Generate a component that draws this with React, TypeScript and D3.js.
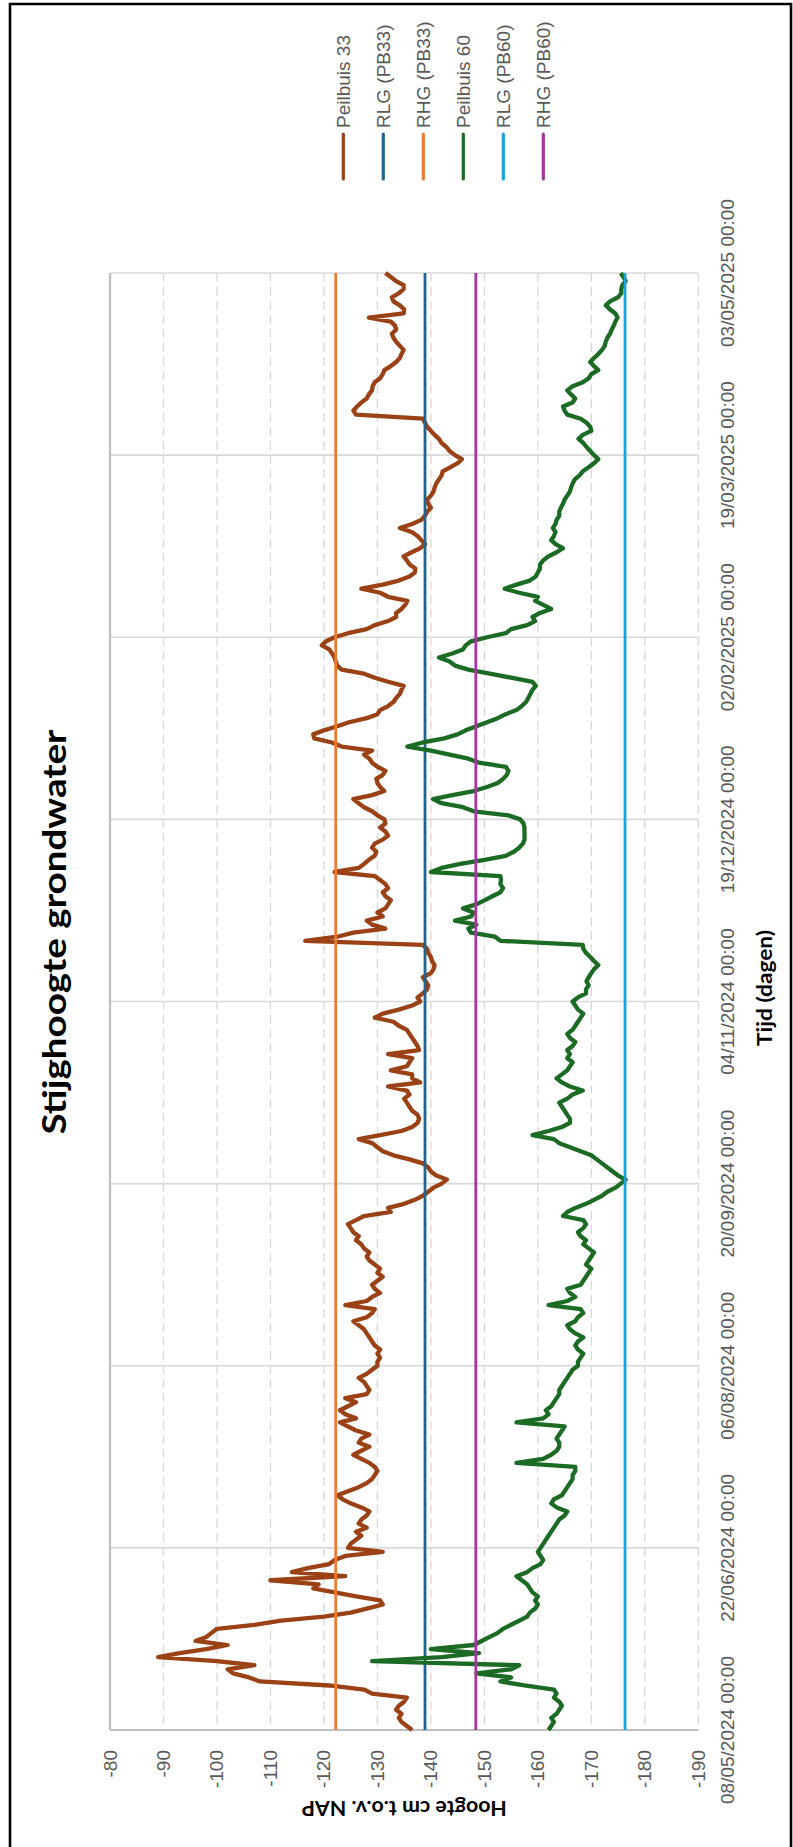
import { line, scaleLinear, scaleUtc, utcParse, utcFormat } from 'd3'

// meetwaarden per dag vanaf 08/05/2024 (cm t.o.v. NAP)
const peilbuis33 = [
  -136.5, -135.5, -134.5, -134, -134.5, -133.5, -134, -135, -135.5, -129,
  -127.5, -121, -108, -106, -103, -102, -107, -100, -89, -93,
  -98, -102, -96, -98, -99, -100, -107, -112, -120, -125,
  -128, -131, -130.5, -126, -122, -118, -119, -110, -124, -114,
  -117, -121, -122, -124, -131, -124.5, -125, -126, -127, -126,
  -128, -126.5, -127, -128, -128.5, -127, -125, -123.5, -122.5, -124.5,
  -126.5, -128, -129, -129.5, -130, -129.5, -128.5, -127, -125.5, -127,
  -128.5, -126.5, -127, -128.5, -126, -124.5, -123, -126, -124, -123,
  -124.5, -126, -124, -128, -128.5, -128, -127.5, -126.5, -128, -129,
  -130, -130, -130.5, -130, -130.5, -129.5, -129, -128.5, -128, -127.5,
  -126.5, -125.5, -128, -129, -129.5, -124, -128, -129, -130.5, -129.5,
  -129, -130, -131, -130, -130.5, -129.5, -128.5, -128, -128.5, -127.5,
  -127, -126, -126.5, -125.5, -125, -124.5, -126, -127.5, -132.5, -132,
  -135, -137, -138.5, -139.5, -140.5, -142, -143, -141, -140, -139.5,
  -138.5, -136, -133, -131, -130, -129, -126.5, -130.5, -134.5, -136.5,
  -137.5, -137.8, -137.5, -136.5, -136, -135.5, -135, -136, -135.5, -132,
  -138, -136.5, -136.5, -132.5, -135.5, -136, -136.5, -132, -137.8, -137.5,
  -137, -136.5, -136, -135.5, -134, -133, -129.5, -131, -134, -136.5,
  -138, -137.5, -138.5, -139.3, -139.5, -139, -138.5, -140, -140.5, -140.7,
  -140.2, -140, -139.5, -139.3, -138.5, -116.5, -122.5, -125.5, -131.5, -129,
  -128, -131, -130, -131.5, -132, -132.5, -131.5, -131, -132, -131.5,
  -130.5, -129.5, -122, -126.5, -127.5, -128.4, -129.5, -129.8, -129, -129.5,
  -131, -132, -131.5, -130.5, -131.5, -131.3, -130, -129, -127.5, -126.5,
  -125.5, -129, -131.3, -130.5, -130, -129.8, -131, -131.5, -130, -129,
  -128.5, -127.5, -129, -123.3, -121.5, -118.2, -118, -120, -122.5, -124.7,
  -128, -130, -130.5, -132, -133, -133.5, -134.2, -134.5, -134.9, -132,
  -129.5, -127.5, -123.3, -122.5, -122.2, -122, -121.5, -121, -119.6, -120.4,
  -122, -124.5, -128, -129.5, -132, -133.5, -133.5, -134.5, -135.2, -135.6,
  -132, -130.5, -127, -131, -134, -136, -137, -137.1, -136, -135.5,
  -134.9, -136.4, -138, -138.9, -138.2, -137.5, -136.4, -134.2, -136.5, -138.2,
  -138.9, -139.3, -140, -139.5, -139.3, -140, -140.5, -140.7, -141, -141.5,
  -142, -142.2, -143.6, -145, -145.8, -144.5, -143.5, -142.9, -142, -141.5,
  -140.7, -140, -139.3, -138.9, -138.5, -126, -125.5, -126.2, -127, -128,
  -128.4, -129, -129.1, -129.5, -130.5, -131, -131.3, -132.5, -133.5, -134.2,
  -134.5, -134.9, -134.2, -133.5, -133, -132.7, -133.5, -133.3, -132.5, -128.4,
  -134.9, -135, -134.2, -133, -132.7, -134, -134.9, -134.9, -133.5, -132.5, -131.5,
]

const peilbuis60 = [
  -162, -162.5, -163, -162.5, -163.5, -164, -164.5, -164, -163, -163.5,
  -163, -157.5, -153, -155, -148.5, -155, -156.5, -129, -142, -149,
  -140, -148, -149.5, -151, -152.5, -153.5, -155, -156.5, -158, -158.5,
  -159.5, -160, -159.5, -160, -159, -158.5, -158, -157, -156, -158,
  -159, -160.5, -161, -160.5, -160, -160.5, -161, -161.5, -162, -162.5,
  -163, -163.5, -164, -165, -165.5, -163.5, -162.5, -163, -164.5, -165,
  -165.5, -166, -166.5, -166.5, -167, -167, -156, -161, -162.5, -163.5,
  -164, -164, -163.5, -164, -164.5, -165, -156, -161, -162, -161.5,
  -162.5, -163, -163.5, -164, -164, -164.5, -165, -165.5, -166, -166.5,
  -167.5, -167.5, -168, -168.5, -167.5, -167, -167.5, -168.5, -167, -166,
  -165.5, -167, -167.5, -168.5, -168, -162, -165.5, -167, -166, -165.5,
  -168, -168.5, -169, -169.5, -170, -169, -169.5, -170, -170.5, -169.5,
  -168.5, -169, -168, -167.5, -168.5, -169, -168.5, -164.7, -165.5, -167,
  -169, -170.5, -172, -173, -174.5, -175.5, -176.4, -175, -174, -173,
  -172, -171, -170, -168, -166, -164, -163, -159, -162, -164.5,
  -166, -166, -165.5, -165, -164.5, -164, -165.5, -166.5, -168.4, -166,
  -164.5, -163.5, -164.5, -165.5, -166, -166.5, -165.5, -166, -165.5, -166.5,
  -167, -166, -165.5, -166.5, -167, -167.5, -168, -168.5, -167.5, -167,
  -166.5, -167.5, -169, -169, -169.5, -169.1, -169.5, -170, -170.5, -171.3,
  -170.5, -169.8, -169, -168.5, -168.4, -153, -152, -147.5, -147, -148.5,
  -144.5, -147.5, -148, -146, -148.5, -150, -151.5, -153, -153.5, -153,
  -153.1, -153, -140, -142, -145.5, -150, -154, -155.5, -156.5, -157.2,
  -157.5, -157.5, -157.5, -157.5, -157.3, -156.7, -154.5, -148, -146, -142,
  -140.4, -144, -148, -150.5, -152.5, -153.5, -154.2, -154.5, -154, -149,
  -147, -143.5, -140, -135.6, -138.5, -142.5, -145, -146.5, -148.5, -150.5,
  -152.5, -154, -156, -157, -157.8, -158.2, -158.6, -159, -159.6, -159,
  -155, -151, -147, -144.5, -143.5, -141.5, -144, -146, -146.5, -147.5,
  -150.5, -154, -155, -158, -159.5, -159, -160.4, -162.5, -161, -159.5,
  -160, -156.5, -153.8, -156, -158.5, -159.6, -160, -160.4, -160.4, -161,
  -162, -163.5, -164.7, -163.3, -162.5, -163, -163.3, -162.8, -163.3, -163.5,
  -164, -164, -164.3, -164.7, -165, -165.5, -166, -166.2, -166.5, -166.9,
  -167.8, -168.4, -169.5, -170.5, -171.3, -170.5, -169.8, -169.1, -168.5, -167.6,
  -168.4, -170, -169.8, -169.1, -168, -165.5, -165, -164.7, -166.5, -167,
  -166.2, -165.5, -166.5, -168.4, -169.5, -170, -171.3, -170.5, -169.8, -170.5,
  -171.3, -172, -172.5, -172.7, -173, -173.5, -173.8, -174.2, -174.5, -174.9,
  -174.5, -173.5, -172.7, -173.5, -175, -175.6, -175.6, -175.8, -176.4, -176, -175.5,
]

// grenswaarden
const rlgPB33 = -138.9
const rhgPB33 = -122.2
const rlgPB60 = -176.3
const rhgPB60 = -148.4

const dateTicks = [
  '08/05/2024', '22/06/2024', '06/08/2024', '20/09/2024', '04/11/2024',
  '19/12/2024', '02/02/2025', '19/03/2025', '03/05/2025',
]
const valueTicks = [-80, -90, -100, -110, -120, -130, -140, -150, -160, -170, -180, -190]

const legendNames = ['Peilbuis 33', 'RLG (PB33)', 'RHG (PB33)', 'Peilbuis 60', 'RLG (PB60)', 'RHG (PB60)']

const colors: Record<string, string> = {
  'Peilbuis 33': '#9a4115',
  'RLG (PB33)': '#1e6592',
  'RHG (PB33)': '#ee7b30',
  'Peilbuis 60': '#1b6b24',
  'RLG (PB60)': '#1ba1db',
  'RHG (PB60)': '#a3379e',
}

const width = 793
const height = 1847
const plot = { left: 110, right: 698.3, top: 273, bottom: 1730 }

const parseDay = utcParse('%d/%m/%Y')
const formatTick = utcFormat('%d/%m/%Y %H:%M')
const tickDates = dateTicks.map((d) => parseDay(d) as Date)
const startDate = tickDates[0]
const dayMs = 86400000

const labelFont = '"Liberation Sans", Arial, sans-serif'
const titleFont = 'Lato, "Noto Sans", sans-serif'

function App() {
  const xScale = scaleLinear().domain([-80, -190]).range([plot.left, plot.right])
  const yScale = scaleUtc()
    .domain([tickDates[0], tickDates[tickDates.length - 1]])
    .range([plot.bottom, plot.top])

  const seriesPath = line<number>()
    .x((v) => xScale(v))
    .y((_, i) => yScale(new Date(startDate.getTime() + i * dayMs)))

  const levels = [
    { name: 'RLG (PB33)', value: rlgPB33 },
    { name: 'RHG (PB33)', value: rhgPB33 },
  ]
  const levels60 = [
    { name: 'RLG (PB60)', value: rlgPB60 },
    { name: 'RHG (PB60)', value: rhgPB60 },
  ]

  const levelLine = (l: { name: string; value: number }) => (
    <line
      key={l.name}
      x1={xScale(l.value)}
      x2={xScale(l.value)}
      y1={plot.top}
      y2={plot.bottom}
      stroke={colors[l.name]}
      strokeWidth={2.8}
    />
  )

  return (
    <svg
      width={width}
      height={height}
      viewBox={`0 0 ${width} ${height}`}
      style={{ position: 'absolute', left: 0, top: 0, display: 'block' }}
    >
      <rect x={0} y={0} width={width} height={height} fill="#fff" />

      {/* raster */}
      {valueTicks.slice(1).map((t) => (
        <line
          key={`g${t}`}
          x1={xScale(t)}
          x2={xScale(t)}
          y1={plot.top}
          y2={plot.bottom}
          stroke="#d9d9d9"
          strokeWidth={1.3}
          strokeDasharray="9 5"
        />
      ))}
      {tickDates.slice(1).map((d) => (
        <line
          key={`h${d.getTime()}`}
          x1={plot.left}
          x2={plot.right}
          y1={yScale(d)}
          y2={yScale(d)}
          stroke="#d9d9d9"
          strokeWidth={1.6}
        />
      ))}
      <line x1={plot.left} x2={plot.left} y1={plot.top} y2={plot.bottom} stroke="#bfbfbf" strokeWidth={2.2} />
      <line x1={plot.left} x2={plot.right} y1={plot.bottom} y2={plot.bottom} stroke="#bfbfbf" strokeWidth={2.2} />

      {/* reeksen */}
      <path d={seriesPath(peilbuis33) ?? ''} fill="none" stroke={colors['Peilbuis 33']} strokeWidth={4.3} strokeLinejoin="round" />
      {levels.map(levelLine)}
      <path d={seriesPath(peilbuis60) ?? ''} fill="none" stroke={colors['Peilbuis 60']} strokeWidth={4.3} strokeLinejoin="round" />
      {levels60.map(levelLine)}

      {/* as-labels */}
      {valueTicks.map((t) => (
        <text
          key={`v${t}`}
          transform={`translate(${xScale(t)}, ${plot.bottom + 20}) rotate(-90)`}
          textAnchor="end"
          dominantBaseline="central"
          fontFamily={labelFont}
          fontSize={19}
          fill="#595959"
        >
          {t}
        </text>
      ))}
      {tickDates.map((d) => (
        <text
          key={`d${d.getTime()}`}
          transform={`translate(727, ${yScale(d)}) rotate(-90)`}
          textAnchor="middle"
          dominantBaseline="central"
          fontFamily={labelFont}
          fontSize={19}
          fill="#595959"
        >
          {formatTick(d)}
        </text>
      ))}

      {/* titels */}
      <text
        transform="translate(53, 932) rotate(-90)"
        textAnchor="middle"
        dominantBaseline="central"
        fontFamily={titleFont}
        fontWeight="bold"
        fontSize={32}
        textLength={405}
        lengthAdjust="spacingAndGlyphs"
        fill="#000"
      >
        Stijghoogte grondwater
      </text>
      <text
        transform="translate(763, 988) rotate(-90)"
        textAnchor="middle"
        dominantBaseline="central"
        fontFamily={titleFont}
        fontWeight="bold"
        fontSize={21}
        textLength={116}
        lengthAdjust="spacingAndGlyphs"
        fill="#000"
      >
        Tijd (dagen)
      </text>
      <text
        transform={`translate(${(plot.left + plot.right) / 2}, 1809) rotate(180)`}
        textAnchor="middle"
        dominantBaseline="central"
        fontFamily={titleFont}
        fontWeight="bold"
        fontSize={21}
        textLength={205}
        lengthAdjust="spacingAndGlyphs"
        fill="#000"
      >
        Hoogte cm t.o.v. NAP
      </text>

      {/* legenda */}
      {legendNames.map((name, i) => {
        const x = 343.3 + i * 40
        return (
          <g key={name}>
            <line x1={x} x2={x} y1={134} y2={179} stroke={colors[name]} strokeWidth={3.2} strokeLinecap="round" />
            <text
              transform={`translate(${x}, 128) rotate(-90)`}
              textAnchor="start"
              dominantBaseline="central"
              fontFamily={labelFont}
              fontSize={19}
              fill="#595959"
            >
              {name}
            </text>
          </g>
        )
      })}

      {/* kader */}
      <path d={`M10,${height + 5} V4 H791 V${height + 5}`} fill="none" stroke="#000" strokeWidth={2.6} />
    </svg>
  )
}

export default App
